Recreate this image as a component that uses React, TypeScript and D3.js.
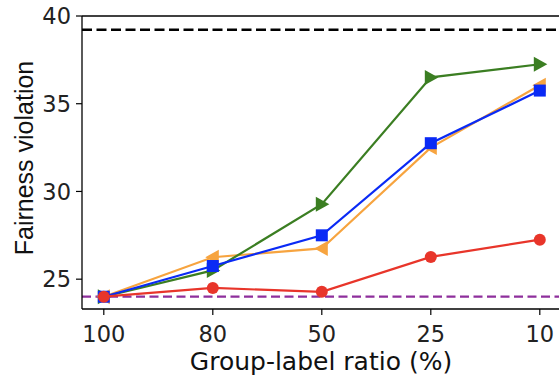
import React from 'react';
import * as d3 from 'd3';

// chart data
const categories = ['100', '80', '50', '25', '10'];
const yTicks = [25, 30, 35, 40];
const redValues = [24.0, 24.5, 24.28, 26.27, 27.25];
const blueValues = [24.0, 25.75, 27.5, 32.75, 35.75];
const orangeValues = [24.0, 26.25, 26.75, 32.5, 36.05];
const greenValues = [24.0, 25.5, 29.27, 36.5, 37.25];
const blackDashed = 39.22;
const purpleDashed = 24.0;

const series = [
  { name: 'orange', values: orangeValues, color: '#f7a43f', marker: 'triLeft' },
  { name: 'green', values: greenValues, color: '#3b7e22', marker: 'triRight' },
  { name: 'blue', values: blueValues, color: '#0a2af5', marker: 'square' },
  { name: 'red', values: redValues, color: '#e8352a', marker: 'circle' },
];

const W = 559;
const H = 378;
const margin = { top: 16, left: 82, bottom: 309 };

const App = () => {
  const x = d3.scaleLinear().domain([-0.2, 4.2]).range([margin.left, margin.left + 4.4 * 109]);
  const y = d3.scaleLinear().domain([23.3, 40]).range([margin.bottom, margin.top]);

  const line = d3.line<number>()
    .x((_, i) => x(i))
    .y(d => y(d));

  const drawMarker = (kind: string, cx: number, cy: number, color: string, key: string) => {
    if (kind === 'circle') return <circle key={key} cx={cx} cy={cy} r={6} fill={color} />;
    if (kind === 'square') return <rect key={key} x={cx - 6} y={cy - 6} width={12} height={12} fill={color} />;
    const s = 7.5;
    if (kind === 'triLeft') {
      return <path key={key} d={`M${cx - s},${cy} L${cx + s * 0.8},${cy - s} L${cx + s * 0.8},${cy + s} Z`} fill={color} />;
    }
    return <path key={key} d={`M${cx + s},${cy} L${cx - s * 0.8},${cy - s} L${cx - s * 0.8},${cy + s} Z`} fill={color} />;
  };

  return (
    <svg width={W} height={H} style={{ position: 'absolute', left: 0, top: 0 }}>
      <rect width={W} height={H} fill="#fff" />

      {/* reference lines */}
      <line x1={margin.left} x2={W} y1={y(blackDashed)} y2={y(blackDashed)}
        stroke="#000" strokeWidth={2.6} strokeDasharray="10,4.5" />
      <line x1={margin.left} x2={W} y1={y(purpleDashed)} y2={y(purpleDashed)}
        stroke="#8e2f9c" strokeWidth={2.2} strokeDasharray="9,4.5" />

      {series.map(s => (
        <g key={s.name}>
          <path d={line(s.values) || ''} fill="none" stroke={s.color} strokeWidth={2.2} />
          {s.values.map((v, i) => drawMarker(s.marker, x(i), y(v), s.color, `${s.name}-${i}`))}
        </g>
      ))}

      {/* spines */}
      <line x1={margin.left} x2={W} y1={margin.top} y2={margin.top} stroke="#000" strokeWidth={1.3} />
      <line x1={margin.left} x2={W} y1={margin.bottom} y2={margin.bottom} stroke="#000" strokeWidth={1.3} />
      <line x1={margin.left} x2={margin.left} y1={margin.top} y2={margin.bottom} stroke="#000" strokeWidth={1.3} />

      {/* y ticks */}
      {yTicks.map(t => (
        <g key={t}>
          <line x1={margin.left - 6} x2={margin.left} y1={y(t)} y2={y(t)} stroke="#000" strokeWidth={1.2} />
          <text x={margin.left - 11} y={y(t)} dy="0.36em" textAnchor="end"
            fontFamily="DejaVu Sans" fontSize={22.5} fill="#222">{t}</text>
        </g>
      ))}

      {/* x ticks */}
      {categories.map((c, i) => (
        <g key={c}>
          <line x1={x(i)} x2={x(i)} y1={margin.bottom} y2={margin.bottom + 6} stroke="#000" strokeWidth={1.2} />
          <text x={x(i)} y={margin.bottom + 33} textAnchor="middle"
            fontFamily="DejaVu Sans" fontSize={22.5} fill="#222">{c}</text>
        </g>
      ))}

      <text x={321} y={370} textAnchor="middle" fontFamily="DejaVu Sans" fontSize={25} fill="#111">
        Group-label ratio (%)
      </text>
      <text transform="translate(33,158) rotate(-90)" textAnchor="middle"
        fontFamily="Liberation Sans" fontSize={25} fill="#111">
        Fairness violation
      </text>
    </svg>
  );
};

export default App;
